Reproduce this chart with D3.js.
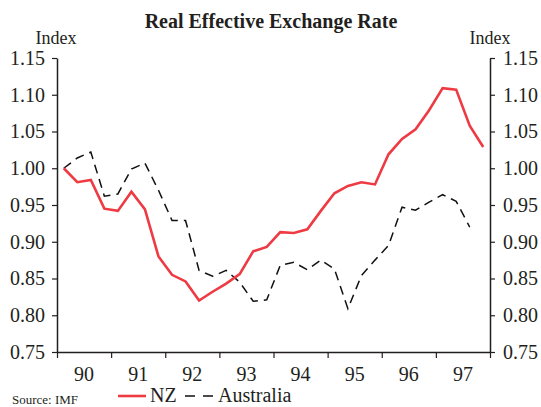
<!DOCTYPE html>
<html><head><meta charset="utf-8">
<script src="https://cdn.jsdelivr.net/npm/d3@7"></script>
<style>body{margin:0;background:#fff}svg{display:block}text{font-family:"Liberation Serif","Times New Roman",serif;fill:#231f20}</style>
</head><body><svg id="c" width="541" height="407"></svg>
<script>
const years = ["90","91","92","93","94","95","96","97"];
const yTicks = [0.75,0.80,0.85,0.90,0.95,1.00,1.05,1.10,1.15];
const nz = [1.000,0.981,0.984,0.945,0.942,0.968,0.944,0.880,0.855,0.846,0.820,0.832,0.843,0.856,0.887,0.893,0.913,0.912,0.917,0.942,0.966,0.976,0.981,0.978,1.019,1.040,1.053,1.079,1.109,1.107,1.058,1.029];
const australia = [1.000,1.014,1.022,0.962,0.965,0.999,1.007,0.970,0.929,0.929,0.861,0.853,0.861,0.845,0.819,0.821,0.868,0.872,0.862,0.875,0.863,0.809,0.854,0.875,0.895,0.947,0.943,0.954,0.964,0.955,0.920];

const svg = d3.select("#c");
const L=57, R=490, T=58, B=352;
const x = d3.scaleLinear().domain([0,32]).range([L,R]);
const y = d3.scaleLinear().domain([0.75,1.15]).range([B,T]);
const col="#231f20";

svg.append("text").attr("x",271).attr("y",28).attr("text-anchor","middle")
  .attr("font-size",20).attr("font-weight","bold").text("Real Effective Exchange Rate");
svg.append("text").attr("x",56).attr("y",44).attr("text-anchor","middle").attr("font-size",18).text("Index");
svg.append("text").attr("x",490).attr("y",44).attr("text-anchor","middle").attr("font-size",18).text("Index");

const fmt = d3.format(".2f");
const gl = svg.append("g").attr("transform",`translate(${L},0)`)
  .call(d3.axisLeft(y).tickValues(yTicks).tickFormat(fmt).tickSize(5).tickSizeOuter(0).tickPadding(7));
const gr = svg.append("g").attr("transform",`translate(${R},0)`)
  .call(d3.axisRight(y).tickValues(yTicks).tickFormat(fmt).tickSize(5).tickSizeOuter(0).tickPadding(8));
const gx = svg.append("g").attr("transform",`translate(0,${B})`)
  .call(d3.axisBottom(x).tickValues(d3.range(0,33,4)).tickFormat("").tickSize(6).tickSizeOuter(0));
[gl,gr,gx].forEach(g=>{
  g.select(".domain").attr("stroke",col).attr("stroke-width",1.5);
  g.selectAll(".tick line").attr("stroke",col).attr("stroke-width",1.2);
  g.selectAll(".tick text").attr("font-size",20).attr("font-family","Liberation Serif").attr("fill",col);
});
svg.append("g").selectAll("text").data(years).join("text")
  .attr("x",(d,i)=>x(i*4+2)).attr("y",381).attr("text-anchor","middle").attr("font-size",20).text(d=>d);

const line = d3.line().x((d,i)=>x(i+0.5)).y(d=>y(d));
svg.append("path").datum(australia).attr("d",line).attr("fill","none")
  .attr("stroke","#111").attr("stroke-width",1.5).attr("stroke-dasharray","9,6");
svg.append("path").datum(nz).attr("d",line).attr("fill","none")
  .attr("stroke","#ee3a43").attr("stroke-width",2.6).attr("stroke-linejoin","miter");

// legend
svg.append("text").attr("x",12).attr("y",404).attr("font-size",13).text("Source: IMF");
svg.append("line").attr("x1",118).attr("x2",146).attr("y1",396).attr("y2",396).attr("stroke","#ee3a43").attr("stroke-width",2.6);
svg.append("text").attr("x",150).attr("y",402).attr("font-size",20).text("NZ");
svg.append("line").attr("x1",185).attr("x2",214).attr("y1",396).attr("y2",396).attr("stroke","#111").attr("stroke-width",1.5).attr("stroke-dasharray","10,8");
svg.append("text").attr("x",218).attr("y",402).attr("font-size",20).text("Australia");
</script></body></html>
